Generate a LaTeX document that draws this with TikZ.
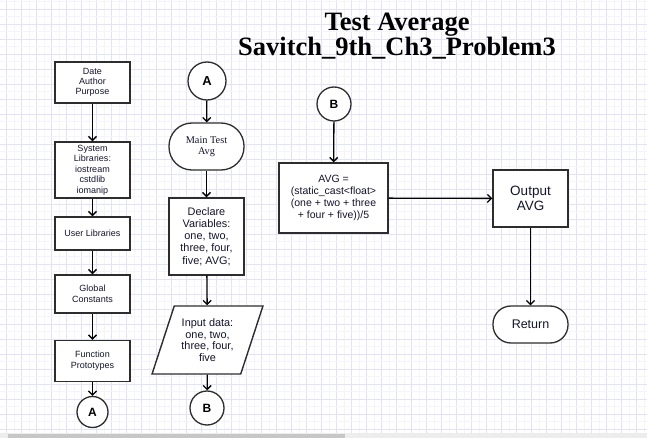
\documentclass[tikz,border=0pt]{standalone}
\usepackage{fontspec}
\setmainfont{Liberation Sans}
\newfontfamily\serifface{Liberation Serif}
\usetikzlibrary{shapes.geometric,arrows.meta}

\definecolor{gridmajor}{RGB}{226,226,248}
\definecolor{gridminor}{RGB}{244,244,253}
\definecolor{boxline}{RGB}{45,45,45}
\definecolor{boxtext}{RGB}{20,20,45}

\tikzset{
  box/.style={rectangle, draw=boxline, line width=1.4pt, fill=white, inner sep=0pt, align=center, text=boxtext},
  term/.style={rectangle, rounded corners=18pt, draw=boxline, line width=1.3pt, fill=white, inner sep=0pt, align=center, text=boxtext},
  conn/.style={circle, draw=boxline, line width=1.3pt, fill=white, inner sep=0pt, font=\bfseries\fontsize{12}{12}\selectfont},
  flow/.style={-{Straight Barb[length=4pt,width=8pt]}, line width=1.3pt},
}

\begin{document}
\begin{tikzpicture}[x=1pt, y=-1pt]
\useasboundingbox (0,0) rectangle (647,438);
\fill[white] (0,0) rectangle (647,438);

% Background grid
\foreach \k in {0,...,43} {
  \draw[gridminor, line width=0.8pt] ({-0.8+15*\k},0) -- ({-0.8+15*\k},438);
  \draw[gridmajor, line width=1pt] ({6.7+15*\k},0) -- ({6.7+15*\k},438);
}
\foreach \k in {0,...,29} {
  \draw[gridminor, line width=0.8pt] (0,{1.8+15*\k}) -- (647,{1.8+15*\k});
  \draw[gridmajor, line width=1pt] (0,{9.3+15*\k}) -- (647,{9.3+15*\k});
}
\fill[black!7] (0,433) rectangle (647,438);
\fill[black!22] (8,434) rectangle (345,438);

% Title
\node[font=\serifface\bfseries\fontsize{26.5}{25.5}\selectfont, align=center] (title) at (397,36) {Test Average\\Savitch\_9th\_Ch3\_Problem3};

% Left column
\node[box, minimum width=75, minimum height=41, font=\fontsize{9}{10}\selectfont] (header) at (92.5,82.5) {Date\\Author\\Purpose};
\node[box, minimum width=75, minimum height=56, font=\fontsize{9}{10.5}\selectfont] (syslib) at (92.5,170) {System\\Libraries:\\iostream\\cstdlib\\iomanip};
\node[box, minimum width=75, minimum height=33, font=\fontsize{9}{10}\selectfont] (userlib) at (92.5,233.5) {User Libraries};
\node[box, minimum width=75, minimum height=38, font=\fontsize{9}{11}\selectfont] (global) at (92.5,294) {Global\\Constants};
\node[box, minimum width=75, minimum height=41, font=\fontsize{9}{11}\selectfont] (proto) at (92.5,361) {Function\\Prototypes};
\node[conn, minimum size=31] (aout) at (92.5,412) {A};

% Middle column
\node[conn, minimum size=38, font=\bfseries\fontsize{13}{13}\selectfont] (ain) at (207,81) {A};
\node[term, rounded corners=23pt, minimum width=75, minimum height=47, font=\serifface\fontsize{10.3}{11}\selectfont] (main) at (206.5,146.5) {Main Test\\Avg};
\node[box, minimum width=75, minimum height=77, font=\fontsize{10.9}{12.2}\selectfont] (declare) at (206.5,236.5) {Declare\\Variables:\\one, two,\\three, four,\\five; AVG;};
\node[trapezium, trapezium left angle=68, trapezium right angle=112, trapezium stretches=true,
  draw=boxline, line width=1.4pt, fill=white, inner sep=0pt, minimum width=111, minimum height=68,
  align=center, text=boxtext, font=\fontsize{10.9}{11.7}\selectfont] (input) at (207.5,340) {Input data:\\one, two,\\three, four,\\five};
\node[conn, minimum size=34] (bout) at (207,408) {B};

% Right column
\node[conn, minimum size=34] (bin) at (334,104) {B};
\node[box, minimum width=109, minimum height=70, font=\fontsize{10.5}{12}\selectfont] (avg) at (333.5,198) {AVG =\\(static\_cast<float>\\(one + two + three\\+ four + five))/5};
\node[box, minimum width=75, minimum height=57, font=\fontsize{13.5}{15}\selectfont] (output) at (530.5,198.5) {Output\\AVG};
\node[term, minimum width=75, minimum height=37, font=\fontsize{12.5}{14}\selectfont] (return) at (530.5,324.5) {Return};

% Edges
\draw[flow] (header) -- (syslib);
\draw[flow] (syslib) -- (userlib);
\draw[flow] (userlib) -- (global);
\draw[flow] (global) -- (proto);
\draw[flow] (proto) -- (aout);
\draw[flow] (ain) -- (main);
\draw[flow] (main) -- (declare);
\draw[flow] (declare) -- (input);
\draw[flow] (input) -- (bout);
\draw[flow] (bin) -- (avg);
\draw[flow] (avg) -- (output);
\draw[flow] (output) -- (return);

\end{tikzpicture}
\end{document}
